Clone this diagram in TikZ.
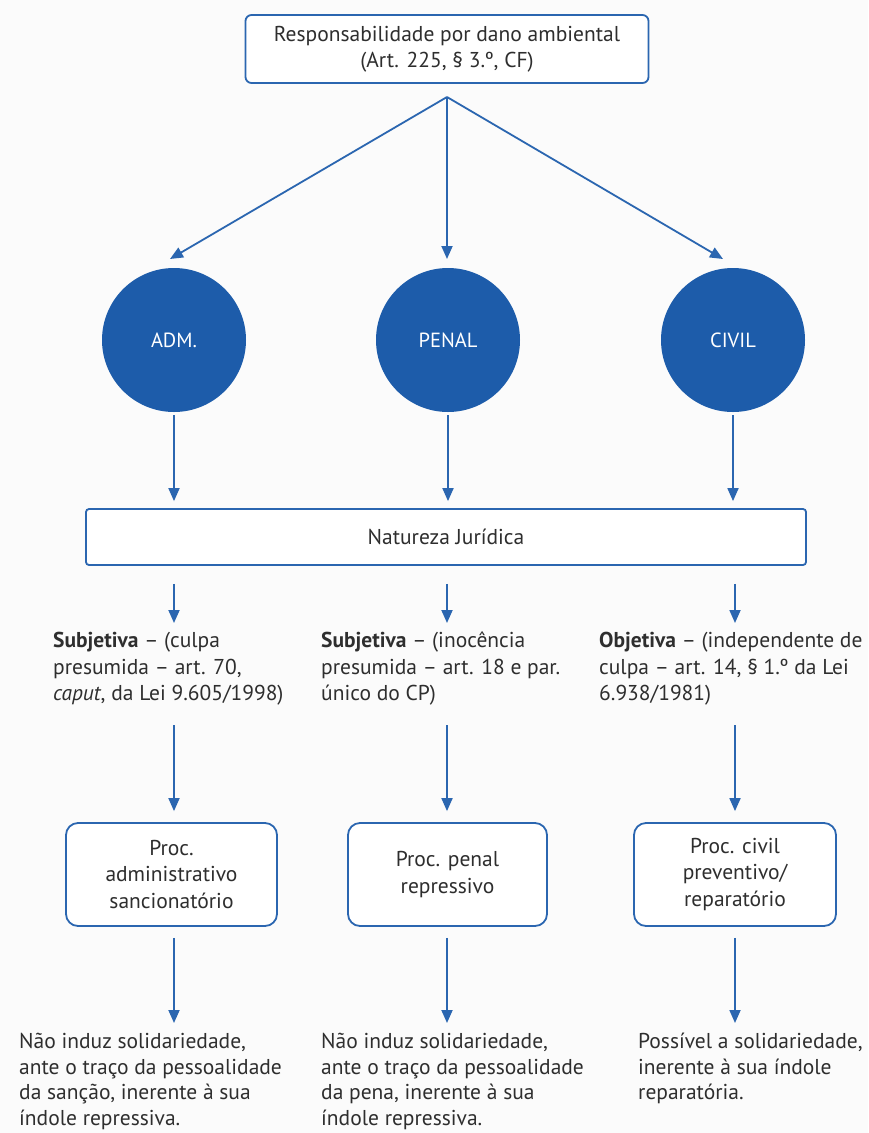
\documentclass[tikz,border=0pt]{standalone}
\usepackage{fontspec}
\setmainfont{PT Sans}
\usetikzlibrary{arrows.meta}
\definecolor{bl}{HTML}{1D5CAA}
\definecolor{ln}{HTML}{2B66B0}
\definecolor{bg}{HTML}{FBFBFB}
\begin{document}
\begin{tikzpicture}[x=1pt,y=-1pt,
  every node/.style={font=\fontsize{21.5}{26.5}\selectfont, text=black!82},
  frame/.style={draw=ln, line width=1.8pt, fill=white, align=center, inner sep=0pt},
  disc/.style={circle, fill=bl, minimum size=144pt, inner sep=0pt, text=white, font=\fontsize{20.5}{24}\selectfont},
  arr/.style={draw=ln, line width=1.8pt, -{Triangle[width=11pt,length=13pt]}},
  para/.style={anchor=north west, align=left, inner sep=0pt},
  lowpara/.style={para, font=\fontsize{21.5}{25.5}\selectfont}]
\fill[bg] (0,0) rectangle (868,1133);
\useasboundingbox (0,0) rectangle (868,1133);

% columns and rows
\coordinate (c1) at (174,0);
\coordinate (c2) at (447,0);
\coordinate (c3) at (735,0);
\coordinate (r1) at (0,725);

% top
\node[frame, rounded corners=6pt, minimum width=403pt, minimum height=68pt] (top) at (447,49)
  {Responsabilidade por dano ambiental\\(Art. 225, § 3.º, CF)};
\coordinate (br) at (447,97);

% circles
\node[disc] (adm) at (174,340) {ADM.};
\node[disc] (pen) at (448,340) {PENAL};
\node[disc] (civ) at (733,340) {CIVIL};
\coordinate (ta) at (170,259);
\coordinate (tp) at (447,259);
\coordinate (tc) at (723,259);
\draw[arr] (br) -- (ta);
\draw[arr] (br) -- (tp);
\draw[arr] (br) -- (tc);

% natureza
\node[frame, rounded corners=3pt, minimum width=720pt, minimum height=56pt] (nat) at (446,537) {Natureza Jurídica};
\draw[arr, shorten <=3pt, shorten >=7pt] (adm.south) -- (adm.south |- nat.north);
\draw[arr, shorten <=3pt, shorten >=7pt] (pen.south) -- (pen.south |- nat.north);
\draw[arr, shorten <=3pt, shorten >=7pt] (civ.south) -- (civ.south |- nat.north);

% nature texts
\node[para] (s1) at (53,632) {\textbf{Subjetiva} – (culpa\\presumida – art. 70,\\\textit{caput}, da Lei 9.605/1998)};
\node[para] (s2) at (321,632) {\textbf{Subjetiva} – (inocência\\presumida – art. 18 e par.\\único do CP)};
\node[para] (s3) at (599,632) {\textbf{Objetiva} – (independente de\\culpa – art. 14, § 1.º da Lei\\6.938/1981)};
\draw[arr, shorten <=18pt, shorten >=9pt] (nat.south -| c1) -- (c1 |- s1.north);
\draw[arr, shorten <=18pt, shorten >=9pt] (nat.south -| c2) -- (c2 |- s2.north);
\draw[arr, shorten <=18pt, shorten >=9pt] (nat.south -| c3) -- (c3 |- s3.north);

% proc boxes
\node[frame, rounded corners=12pt, minimum width=211pt, minimum height=103pt] (p1) at (171.5,874.5)
  {Proc.\\administrativo\\sancionatório};
\node[frame, rounded corners=12pt, minimum width=199pt, minimum height=103pt] (p2) at (447.5,874.5)
  {Proc. penal\\repressivo};
\node[frame, rounded corners=12pt, minimum width=202pt, minimum height=103pt] (p3) at (735,874.5)
  {Proc. civil\\preventivo/\\reparatório};
\draw[arr, shorten >=11pt] (c1 |- r1) -- (c1 |- p1.north);
\draw[arr, shorten >=11pt] (c2 |- r1) -- (c2 |- p2.north);
\draw[arr, shorten >=11pt] (c3 |- r1) -- (c3 |- p3.north);

% bottom texts
\node[lowpara] (b1) at (19,1033) {Não induz solidariedade,\\ante o traço da pessoalidade\\da sanção, inerente à sua\\índole repressiva.};
\node[lowpara] (b2) at (321,1033) {Não induz solidariedade,\\ante o traço da pessoalidade\\da pena, inerente à sua\\índole repressiva.};
\node[lowpara] (b3) at (638,1033) {Possível a solidariedade,\\inerente à sua índole\\reparatória.};
\draw[arr, shorten <=11pt, shorten >=10pt] (p1.south -| c1) -- (c1 |- b1.north);
\draw[arr, shorten <=11pt, shorten >=10pt] (p2.south -| c2) -- (c2 |- b2.north);
\draw[arr, shorten <=11pt, shorten >=10pt] (p3.south -| c3) -- (c3 |- b3.north);
\end{tikzpicture}
\end{document}
